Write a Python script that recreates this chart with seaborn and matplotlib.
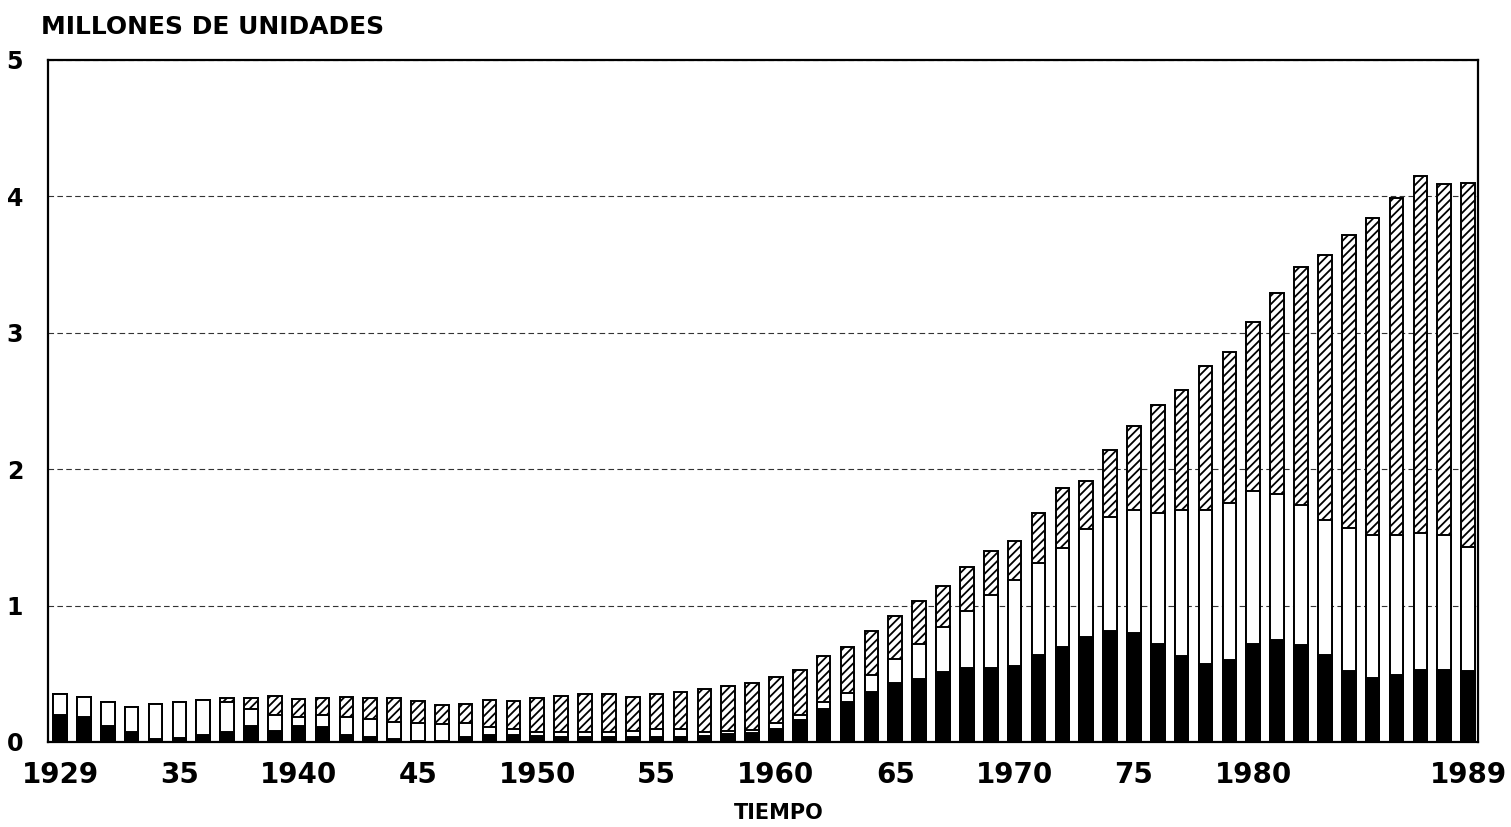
import matplotlib
matplotlib.use('Agg')
import pandas as pd
import matplotlib.pyplot as plt
import seaborn as sns

# one bar per year, three stacked parts (millions of units)
anios = list(range(1930, 1990))
negro = [0.20, 0.18, 0.12, 0.07, 0.02, 0.03, 0.05, 0.07, 0.12, 0.08,
         0.115, 0.11, 0.05, 0.04, 0.02, 0.01, 0.01, 0.04, 0.05, 0.05,
         0.045, 0.04, 0.035, 0.035, 0.035, 0.035, 0.035, 0.045, 0.055, 0.065,
         0.095, 0.16, 0.24, 0.29, 0.37, 0.43, 0.46, 0.51, 0.54, 0.54,
         0.56, 0.64, 0.70, 0.77, 0.81, 0.80, 0.72, 0.63, 0.57, 0.60,
         0.72, 0.75, 0.71, 0.64, 0.52, 0.47, 0.49, 0.53, 0.53, 0.52]
blanco = [0.15, 0.15, 0.17, 0.19, 0.26, 0.26, 0.26, 0.22, 0.12, 0.12,
          0.07, 0.085, 0.13, 0.13, 0.13, 0.13, 0.12, 0.10, 0.06, 0.045,
          0.03, 0.035, 0.04, 0.04, 0.045, 0.06, 0.06, 0.03, 0.025, 0.025,
          0.044, 0.037, 0.05, 0.066, 0.12, 0.18, 0.26, 0.33, 0.42, 0.54,
          0.63, 0.67, 0.72, 0.79, 0.84, 0.90, 0.96, 1.07, 1.13, 1.15,
          1.12, 1.07, 1.03, 0.99, 1.05, 1.05, 1.03, 1.00, 0.99, 0.91]
rayado = [0.0, 0.0, 0.0, 0.0, 0.0, 0.0, 0.0, 0.03, 0.08, 0.14,
          0.13, 0.13, 0.15, 0.15, 0.17, 0.16, 0.14, 0.14, 0.20, 0.205,
          0.25, 0.265, 0.28, 0.28, 0.25, 0.26, 0.27, 0.31, 0.33, 0.345,
          0.34, 0.33, 0.34, 0.34, 0.32, 0.31, 0.31, 0.30, 0.32, 0.32,
          0.28, 0.37, 0.44, 0.35, 0.49, 0.62, 0.79, 0.88, 1.06, 1.11,
          1.24, 1.47, 1.74, 1.94, 2.15, 2.32, 2.47, 2.62, 2.57, 2.67]

ticks = [1930, 1935, 1940, 1945, 1950, 1955, 1960, 1965, 1970, 1975, 1980, 1989]
tick_labels = ['1929', '35', '1940', '45', '1950', '55', '1960', '65',
               '1970', '75', '1980', '1989']

data = pd.DataFrame({'anio': anios, 'negro': negro, 'blanco': blanco, 'rayado': rayado})
data['nivel2'] = data['negro'] + data['blanco']
data['total'] = data['nivel2'] + data['rayado']

sns.set_style('white')
plt.rcParams['font.family'] = ['DejaVu Sans']
plt.rcParams['text.color'] = 'black'
plt.rcParams['axes.labelcolor'] = 'black'
plt.rcParams['xtick.color'] = 'black'
plt.rcParams['ytick.color'] = 'black'
plt.rcParams['hatch.linewidth'] = 1.3

fig = plt.figure(figsize=(15.11, 8.27), dpi=100)
ax = fig.add_axes([0.0318, 0.1028, 0.9464, 0.8247])

common = dict(x='anio', native_scale=True, width=0.57, edgecolor='black',
              linewidth=1.4, saturation=1, errorbar=None, ax=ax)
# stacked by overdrawing cumulative heights
sns.barplot(data=data, y='total', color='white', hatch='////', **common)
sns.barplot(data=data, y='nivel2', color='white', **common)
sns.barplot(data=data, y='negro', color='black', **common)

ax.set_xlim(1929.5, 1989.42)
ax.set_ylim(0, 5)
ax.set_yticks(range(6))
ax.set_xticks(ticks)
ax.set_xticklabels(tick_labels)
ax.tick_params(axis='x', length=0, pad=14, labelsize=20)
ax.tick_params(axis='y', length=0, pad=18, labelsize=17)
for lab in ax.get_xticklabels() + ax.get_yticklabels():
    lab.set_fontweight('bold')

ax.set_axisbelow(True)
ax.yaxis.grid(True, color='0.2', linestyle=(0, (5, 3)), linewidth=0.8)
ax.xaxis.grid(False)
for s in ax.spines.values():
    s.set_visible(True)
    s.set_color('black')
    s.set_linewidth(1.6)

ax.set_ylabel('')
ax.set_xlabel('TIEMPO', fontsize=15, fontweight='bold')
ax.xaxis.set_label_coords(0.511, -0.09)
ax.text(-0.005, 1.03, 'MILLONES DE UNIDADES', transform=ax.transAxes,
        fontsize=18, fontweight='bold', ha='left', va='bottom')

fig.savefig('out.png', dpi=100)
